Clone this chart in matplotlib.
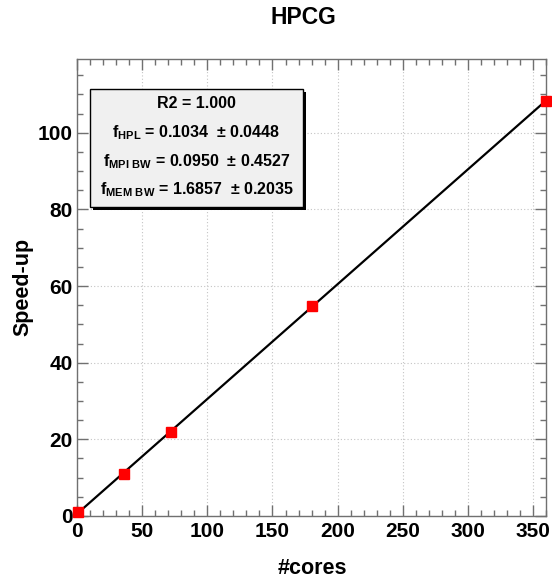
import numpy as np
import matplotlib
matplotlib.use("Agg")
import matplotlib.pyplot as plt
from matplotlib.patches import Rectangle
from matplotlib.ticker import MultipleLocator

plt.rcParams['font.family'] = ['Liberation Sans', 'DejaVu Sans']
plt.rcParams['font.weight'] = 'bold'
plt.rcParams['mathtext.fontset'] = 'custom'
plt.rcParams['mathtext.rm'] = 'Liberation Sans:bold'
plt.rcParams['mathtext.bf'] = 'Liberation Sans:bold'
plt.rcParams['mathtext.it'] = 'Liberation Sans:bold'

# data
cores = [1, 36, 72, 180, 360]
speedup = [1.0, 11.0, 22.0, 54.8, 108.4]
title = "HPCG"
xlabel = "#cores"
ylabel = "Speed-up"
box_lines = [
    "R2 = 1.000",
    r"$\mathbf{f}_{\mathbf{HPL}}$ = 0.1034  ± 0.0448",
    r"$\mathbf{f}_{\mathbf{MPI\ BW}}$ = 0.0950  ± 0.4527",
    r"$\mathbf{f}_{\mathbf{MEM\ BW}}$ = 1.6857  ± 0.2035",
]

fig = plt.figure(figsize=(5.52, 5.81), dpi=100)
ax = fig.add_axes([0.139, 0.1119, 0.851, 0.7866])

frame = '#707070'
for s in ax.spines.values():
    s.set_color(frame)
    s.set_linewidth(1.0)

ax.set_xlim(0, 360)
ax.set_ylim(0, 1.1 * max(speedup))
ax.xaxis.set_major_locator(MultipleLocator(50))
ax.xaxis.set_minor_locator(MultipleLocator(10))
ax.yaxis.set_major_locator(MultipleLocator(20))
ax.yaxis.set_minor_locator(MultipleLocator(5))
ax.tick_params(which='both', direction='in', top=True, right=True, color=frame, width=1.0)
ax.tick_params(which='major', length=8, labelsize=15, pad=4)
ax.tick_params(which='minor', length=4)
ax.tick_params(axis='y', which='major', pad=3)
for lab in ax.get_xticklabels() + ax.get_yticklabels():
    lab.set_fontweight('bold')

ax.grid(True, which='major', linestyle=(0, (1, 2)), color='#c4c4c4', linewidth=0.8)
ax.set_axisbelow(True)

# fit line
coef = np.polyfit(cores, speedup, 1)
xf = np.array([min(cores), max(cores)])
ax.plot(xf, np.polyval(coef, xf), color='black', linewidth=1.6, zorder=3)
ax.plot(cores, speedup, linestyle='none', marker='s', markersize=7.5,
        color='#ff0000', markeredgecolor='#ff0000', zorder=4, clip_on=False)

W, H = 552, 581
fig.text(303 / W, 1 - 17.5 / H, title, ha='center', va='center', fontsize=16.5, fontweight='bold')
fig.text(312 / W, 1 - 568 / H, xlabel, ha='center', va='center', fontsize=15.5, fontweight='bold')
fig.text(23 / W, 1 - 287 / H, ylabel, ha='center', va='center', fontsize=15.5, fontweight='bold', rotation=90)

# text box with shadow (figure pixel coords)
bx0, by0, bx1, by1 = 90, 89, 303, 207
sh = 3
fig.patches.append(Rectangle(((bx0 + sh) / W, 1 - (by1 + sh) / H), (bx1 - bx0) / W, (by1 - by0) / H,
                             transform=fig.transFigure, facecolor='black', edgecolor='none', zorder=5))
fig.patches.append(Rectangle((bx0 / W, 1 - by1 / H), (bx1 - bx0) / W, (by1 - by0) / H,
                             transform=fig.transFigure, facecolor='#f0f0f0', edgecolor='black',
                             linewidth=1.0, zorder=6))
ys = [104, 133, 162, 190]
for t, y in zip(box_lines, ys):
    fig.text((bx0 + bx1) / 2 / W, 1 - y / H, t, ha='center', va='center', fontsize=11.5,
             fontweight='bold', zorder=7)

fig.savefig('out.png', dpi=100)
